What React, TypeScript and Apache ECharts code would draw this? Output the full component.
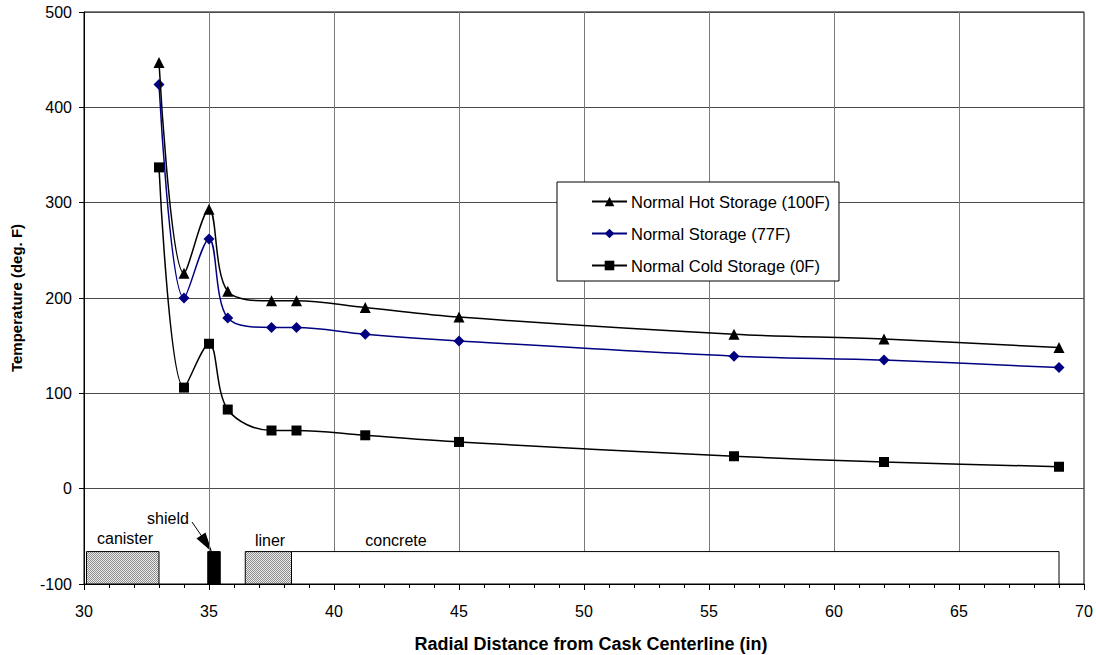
import React, { useEffect, useRef } from "react";
import * as echarts from "echarts";

// Radial positions (in) and temperatures (deg. F)
const radius = [33, 34, 35, 35.75, 37.5, 38.5, 41.25, 45, 56, 62, 69];
const hotStorage = [447, 226, 293, 207, 197, 197, 190, 180, 162, 157, 148];
const normalStorage = [424, 200, 262, 179, 169, 169, 162, 155, 139, 135, 127];
const coldStorage = [337, 106, 152, 83, 61, 61, 56, 49, 34, 28, 23];
const seriesNames = [
  "Normal Hot Storage (100F)",
  "Normal Storage (77F)",
  "Normal Cold Storage (0F)",
];

// Cask components drawn along the bottom of the plot
const componentNames = ["canister", "shield", "liner", "concrete"];
const componentStart = [30.1, 34.95, 36.45, 38.3];
const componentEnd = [33, 35.45, 38.3, 69];
const componentTop = -66;

const FONT = "'Liberation Sans', Arial, sans-serif";

function makeDots(): any {
  try {
    const c = document.createElement("canvas");
    c.width = 2;
    c.height = 2;
    const ctx = c.getContext("2d");
    if (!ctx) return "#c4c4c4";
    ctx.fillStyle = "#ececec";
    ctx.fillRect(0, 0, 2, 2);
    ctx.fillStyle = "#8c8c8c";
    ctx.fillRect(0, 0, 1, 1);
    ctx.fillRect(1, 1, 1, 1);
    return { image: c.toDataURL(), repeat: "repeat" };
  } catch (e) {
    return "#c4c4c4";
  }
}

export default function App() {
  const ref = useRef<HTMLDivElement>(null);

  useEffect(() => {
    if (!ref.current) return;
    const chart = echarts.init(ref.current, undefined, { renderer: "svg" });

    const pair = (ys: number[]) => radius.map((x, i) => [x, ys[i]]);
    const dots = makeDots();
    const compFill = [dots, "#000000", dots, "#ffffff"];

    const option: any = {
      animation: false,
      backgroundColor: "#ffffff",
      textStyle: { fontFamily: FONT, color: "#000" },
      grid: {
        left: 84,
        right: 12,
        top: 12,
        bottom: 71,
        outerBoundsMode: "none",
        containLabel: false,
        show: true,
        borderColor: "#000",
        borderWidth: 1,
        backgroundColor: "transparent",
      },
      legend: {
        data: seriesNames,
        orient: "vertical",
        left: 557,
        top: 182,
        padding: [11, 9, 7, 34],
        itemWidth: 35,
        itemHeight: 12,
        itemGap: 15,
        backgroundColor: "#fff",
        borderColor: "#000",
        borderWidth: 1,
        borderRadius: 0,
        textStyle: { fontFamily: FONT, fontSize: 16.5, color: "#000", padding: [0, 0, 0, -1] },
      },
      xAxis: {
        type: "value",
        min: 30,
        max: 70,
        interval: 5,
        name: "Radial Distance from Cask Centerline (in)",
        nameLocation: "middle",
        nameGap: 51,
        nameTextStyle: { fontFamily: FONT, fontSize: 18, fontWeight: "bold", color: "#000", padding: [0, 0, 0, 14] },
        axisLine: { onZero: false, lineStyle: { color: "#000", width: 1 } },
        axisTick: { show: true, length: 6, inside: false, lineStyle: { color: "#000" } },
        minorTick: { show: true, splitNumber: 5, length: 4, lineStyle: { color: "#000" } },
        axisLabel: { fontFamily: FONT, fontSize: 16, color: "#000", margin: 19 },
        splitLine: { show: true, lineStyle: { color: "#7a7a7a", width: 1 } },
      },
      yAxis: {
        type: "value",
        min: -100,
        max: 500,
        interval: 100,
        name: "Temperature (deg. F)",
        nameLocation: "middle",
        nameGap: 60,
        nameTextStyle: { fontFamily: FONT, fontSize: 15, fontWeight: "bold", color: "#000" },
        axisLine: { onZero: false, lineStyle: { color: "#000", width: 1 } },
        axisTick: { show: true, length: 5, inside: false, lineStyle: { color: "#000" } },
        axisLabel: { fontFamily: FONT, fontSize: 16, color: "#000", margin: 12 },
        splitLine: { show: true, lineStyle: { color: "#4a4a4a", width: 1 } },
      },
      series: [
        {
          type: "custom",
          name: "components",
          silent: true,
          z: 1,
          data: componentNames.map((n, i) => [componentStart[i], componentEnd[i], i]),
          encode: { x: [0, 1] },
          renderItem: (params: any, api: any) => {
            const i = api.value(2);
            const p0 = api.coord([api.value(0), componentTop]);
            const p1 = api.coord([api.value(1), -100]);
            return {
              type: "rect",
              shape: { x: p0[0], y: p0[1], width: p1[0] - p0[0], height: p1[1] - p0[1] },
              style: { fill: compFill[i], stroke: "#000", lineWidth: 1 },
            };
          },
        },
        {
          type: "line",
          name: seriesNames[0],
          data: pair(hotStorage),
          smooth: 0.35,
          symbol: "triangle",
          symbolSize: 11,
          z: 4,
          lineStyle: { color: "#000", width: 1.5 },
          itemStyle: { color: "#000" },
        },
        {
          type: "line",
          name: seriesNames[1],
          data: pair(normalStorage),
          smooth: 0.35,
          symbol: "diamond",
          symbolSize: 11,
          z: 3,
          lineStyle: { color: "#000080", width: 1.5 },
          itemStyle: { color: "#000080" },
        },
        {
          type: "line",
          name: seriesNames[2],
          data: pair(coldStorage),
          smooth: 0.35,
          symbol: "rect",
          symbolSize: 10,
          z: 3,
          lineStyle: { color: "#000", width: 1.5 },
          itemStyle: { color: "#000" },
        },
      ],
      graphic: [
        { type: "text", x: 125, y: 538, style: { text: "canister", font: `16px ${FONT}`, fill: "#000", align: "center", verticalAlign: "middle" } },
        { type: "text", x: 168, y: 518, style: { text: "shield", font: `16px ${FONT}`, fill: "#000", align: "center", verticalAlign: "middle" } },
        { type: "text", x: 270, y: 540, style: { text: "liner", font: `16px ${FONT}`, fill: "#000", align: "center", verticalAlign: "middle" } },
        { type: "text", x: 396, y: 540, style: { text: "concrete", font: `16px ${FONT}`, fill: "#000", align: "center", verticalAlign: "middle" } },
        { type: "line", shape: { x1: 192, y1: 522, x2: 203, y2: 538 }, style: { stroke: "#000", lineWidth: 1 } },
        { type: "polygon", shape: { points: [[196.5, 538.5], [205.5, 532.5], [212, 552]] }, style: { fill: "#000" } },
      ],
    };

    chart.setOption(option);
    return () => chart.dispose();
  }, []);

  return <div ref={ref} style={{ width: 1096, height: 655, position: "absolute", left: 0, top: 0 }} />;
}
